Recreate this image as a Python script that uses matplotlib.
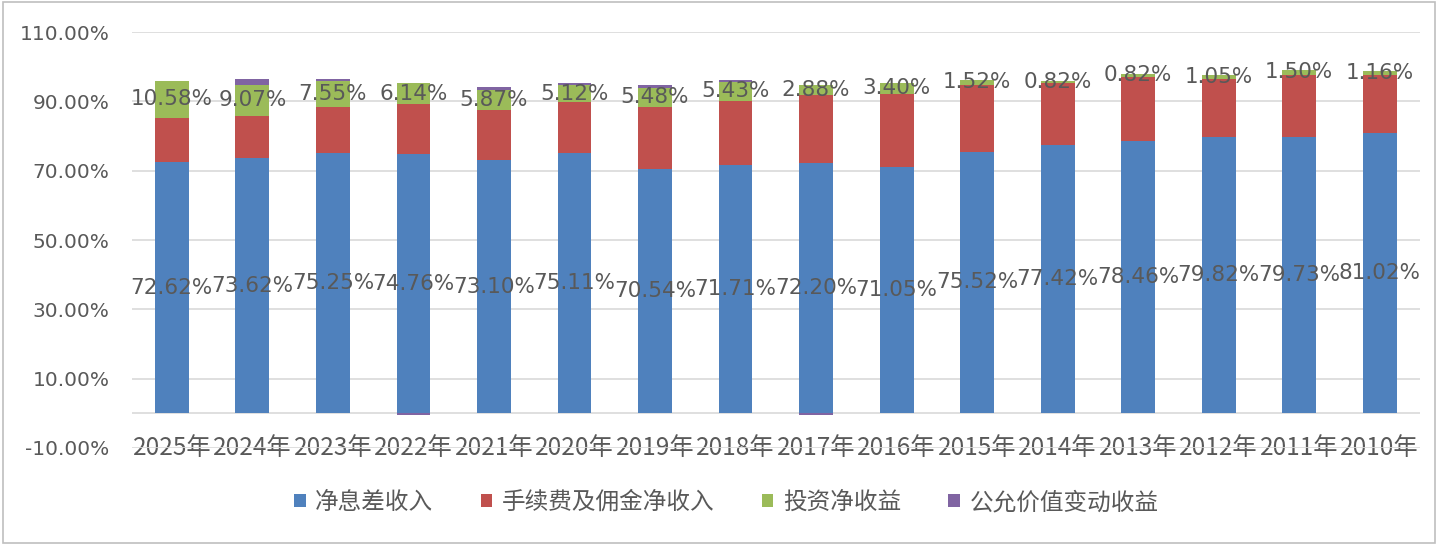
import numpy as np
import matplotlib
matplotlib.use("Agg")
import matplotlib.pyplot as plt
from matplotlib.patches import Rectangle

plt.rcParams['font.family'] = ['Noto Sans CJK SC', 'DejaVu Sans']

years = ['2025年', '2024年', '2023年', '2022年', '2021年', '2020年', '2019年', '2018年',
         '2017年', '2016年', '2015年', '2014年', '2013年', '2012年', '2011年', '2010年']
net_interest = [72.62, 73.62, 75.25, 74.76, 73.10, 75.11, 70.54, 71.71,
                72.20, 71.05, 75.52, 77.42, 78.46, 79.82, 79.73, 81.02]
fee = [12.7, 12.2, 13.2, 14.4, 14.4, 14.6, 17.9, 18.5,
       19.6, 21.0, 19.2, 17.8, 18.7, 16.8, 17.9, 16.6]
invest = [10.58, 9.07, 7.55, 6.14, 5.87, 5.12, 5.48, 5.43,
          2.88, 3.40, 1.52, 0.82, 0.82, 1.05, 1.50, 1.16]
fair_value = [0.0, 1.5, 0.4, -0.4, 0.9, 0.4, 0.7, 0.5,
              -0.4, 0.0, 0.0, 0.0, 0.0, 0.0, 0.0, 0.0]
series_names = ['净息差收入', '手续费及佣金净收入', '投资净收益', '公允价值变动收益']
colors = ['#4F81BD', '#C0504D', '#9BBB59', '#8064A2']
text_color = '#595959'

fig = plt.figure(figsize=(14.38, 5.45), dpi=100)
fig.patches.append(Rectangle((0.002, 0.003), 0.996, 0.994, transform=fig.transFigure,
                             fill=False, edgecolor='#BFBFBF', linewidth=1.2))
ax = fig.add_axes([0.0915, 0.178, 0.896, 0.763])

x = np.arange(len(years))
w = 0.42
ni = np.array(net_interest)
fe = np.array(fee)
iv = np.array(invest)
fv = np.array(fair_value)

b1 = ax.bar(x, ni, w, color=colors[0], label=series_names[0], zorder=3)
b2 = ax.bar(x, fe, w, bottom=ni, color=colors[1], label=series_names[1], zorder=3)
b3 = ax.bar(x, iv, w, bottom=ni + fe, color=colors[2], label=series_names[2], zorder=3)
fv_bottom = np.where(fv >= 0, ni + fe + iv, 0)
b4 = ax.bar(x, fv, w, bottom=fv_bottom, color=colors[3], label=series_names[3], zorder=3)

for xi, v in zip(x, ni):
    ax.text(xi, v / 2, f'{v:.2f}%', ha='center', va='center', fontsize=15.5,
            color=text_color, family='DejaVu Sans', zorder=4)
for xi, b, v in zip(x, ni + fe, iv):
    ax.text(xi, b + v / 2, f'{v:.2f}%', ha='center', va='center', fontsize=15.5,
            color=text_color, family='DejaVu Sans', zorder=4)

ax.set_ylim(-10, 110)
ax.set_yticks(np.arange(-10, 111, 20))
ax.set_yticklabels([f'{t:.2f}%' for t in np.arange(-10, 111, 20)], family='DejaVu Sans')
ax.set_xlim(-0.5, len(years) - 0.5)
ax.set_xticks(x)
ax.set_xticklabels(years)
ax.tick_params(axis='x', length=0, pad=-9, labelsize=17.5, colors=text_color)
ax.tick_params(axis='y', length=0, pad=16, labelsize=14.5, colors=text_color)
ax.grid(axis='y', color='#D9D9D9', linewidth=1.2, zorder=0)
ax.axhline(0, color='#D9D9D9', linewidth=1.2, zorder=2)
for s in ax.spines.values():
    s.set_visible(False)

fig.legend(handles=[b1, b2, b3, b4], loc='center', bbox_to_anchor=(0.505, 0.078), ncol=4,
           frameon=False, fontsize=17, handlelength=0.5, handleheight=0.5,
           handletextpad=0.4, columnspacing=2.0, labelcolor=text_color)

fig.savefig('out.png', dpi=100)
